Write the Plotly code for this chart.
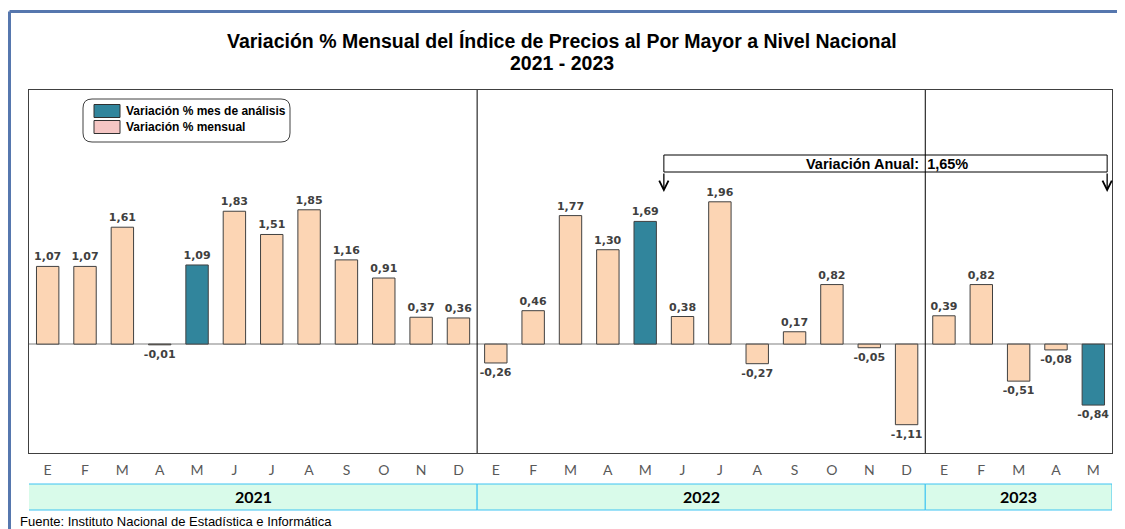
import plotly.graph_objects as go

# ---------------- data ----------------
months = ["E", "F", "M", "A", "M", "J", "J", "A", "S", "O", "N", "D",
          "E", "F", "M", "A", "M", "J", "J", "A", "S", "O", "N", "D",
          "E", "F", "M", "A", "M"]
years = ["2021", "2022", "2023"]
months_per_year = [12, 12, 5]
values = [1.07, 1.07, 1.61, -0.01, 1.09, 1.83, 1.51, 1.85, 1.16, 0.91, 0.37, 0.36,
          -0.26, 0.46, 1.77, 1.30, 1.69, 0.38, 1.96, -0.27, 0.17, 0.82, -0.05, -1.11,
          0.39, 0.82, -0.51, -0.08, -0.84]
analysis_month = [False, False, False, False, True, False, False, False, False, False, False, False,
                  False, False, False, False, True, False, False, False, False, False, False, False,
                  False, False, False, False, True]
annual_label = "Variación Anual:  1,65%"
legend_labels = ["Variación % mes de análisis", "Variación % mensual"]
title_lines = ["Variación % Mensual del Índice de Precios al Por Mayor a Nivel Nacional", "2021 - 2023"]
source = "Fuente: Instituto Nacional de Estadística e Informática"

# ---------------- style ----------------
PEACH = "#FCD5B4"
TEAL = "#31859C"
PINK = "#F5C6C4"
OFF = 8                      # page body margin
W, H = 1125 - OFF, 529 - OFF
ML, MR, MT, MB = 29 - OFF, 13, 90 - OFF, 76
PW, PH = W - ML - MR, H - MT - MB


def px(x):
    """window pixel x -> paper"""
    return (x - OFF - ML) / PW


def py(y):
    """window pixel y -> paper"""
    return (H - MB - (y - OFF)) / PH


x = list(range(len(values)))
colors = [TEAL if a else PEACH for a in analysis_month]
texts = [f"{v:.2f}".replace(".", ",") for v in values]

fig = go.Figure()
fig.add_trace(go.Bar(
    x=x, y=values, marker=dict(color=colors, line=dict(color="#404040", width=1)),
    text=texts, textposition="outside", constraintext="none", cliponaxis=False,
    textfont=dict(family="DejaVu Sans", size=11, color="#404040", weight="bold"),
    width=0.6, hoverinfo="skip", showlegend=False,
))

shapes = []
annotations = []

# annual variation box (below separators)
box_x0, box_x1 = 16.5, 28.37
shapes.append(dict(type="rect", xref="x", yref="paper", x0=box_x0, x1=box_x1,
                   y0=py(172), y1=py(155), line=dict(color="black", width=1),
                   fillcolor="white", layer="above"))
annotations.append(dict(xref="paper", yref="paper", x=px(887), y=py(163.5), text=annual_label,
                        showarrow=False, xanchor="center", yanchor="middle",
                        font=dict(family="Liberation Sans", size=14.5,
                                  color="black", weight="bold")))
for ax_ in (box_x0, box_x1):
    annotations.append(dict(xref="x", yref="paper", axref="pixel", ayref="pixel",
                            x=ax_, y=py(192), ax=0, ay=-20, text="",
                            showarrow=True, arrowhead=5, arrowsize=1.4, arrowwidth=1.3,
                            arrowcolor="black", standoff=0))

# year separators
start = 0
bounds = []
for n in months_per_year:
    bounds.append((start, start + n))
    start += n
for (a, b) in bounds[:-1]:
    shapes.append(dict(type="line", xref="x", yref="paper", x0=b - 0.5, x1=b - 0.5,
                       y0=0, y1=1, line=dict(color="black", width=1), layer="above"))

# year band
band_y0, band_y1 = py(510), py(484)
for i, ((a, b), yr) in enumerate(zip(bounds, years)):
    x0 = a - 0.5 if i > 0 else px(25) * len(values) - 0.5
    x1 = b - 0.5
    shapes.append(dict(type="rect", xref="x", yref="paper", x0=x0, x1=x1, y0=band_y0, y1=band_y1,
                       fillcolor="#D9FBEA", line=dict(color="#3CC3F2", width=1)))
    annotations.append(dict(xref="x", yref="paper", x=(a + b - 1) / 2, y=(band_y0 + band_y1) / 2,
                            text=yr, showarrow=False, xanchor="center", yanchor="middle",
                            font=dict(family="Lato", size=16, color="black", weight="bold")))

# legend box
r = 9
lx0, lx1, ly0, ly1 = 83, 290, 99, 142
path = (f"M {px(lx0 + r)} {py(ly0)} L {px(lx1 - r)} {py(ly0)} "
        f"Q {px(lx1)} {py(ly0)} {px(lx1)} {py(ly0 + r)} L {px(lx1)} {py(ly1 - r)} "
        f"Q {px(lx1)} {py(ly1)} {px(lx1 - r)} {py(ly1)} L {px(lx0 + r)} {py(ly1)} "
        f"Q {px(lx0)} {py(ly1)} {px(lx0)} {py(ly1 - r)} L {px(lx0)} {py(ly0 + r)} "
        f"Q {px(lx0)} {py(ly0)} {px(lx0 + r)} {py(ly0)} Z")
shapes.append(dict(type="path", xref="paper", yref="paper", path=path,
                   line=dict(color="#404040", width=1), fillcolor="white", layer="above"))
for (yc, col, lab) in ((111, TEAL, legend_labels[0]), (127, PINK, legend_labels[1])):
    shapes.append(dict(type="rect", xref="paper", yref="paper", x0=px(94), x1=px(120),
                       y0=py(yc + 6.5), y1=py(yc - 6.5), fillcolor=col,
                       line=dict(color="#303030", width=1), layer="above"))
    annotations.append(dict(xref="paper", yref="paper", x=px(124), y=py(yc), text=lab,
                            xanchor="left", yanchor="middle", showarrow=False,
                            font=dict(family="Liberation Sans", size=12, color="black", weight="bold")))

# outer blue frame
shapes.append(dict(type="line", xref="paper", yref="paper", x0=px(9.5), x1=px(1130),
                   y0=py(11.5), y1=py(11.5), line=dict(color="#5677AE", width=3)))
shapes.append(dict(type="line", xref="paper", yref="paper", x0=px(9.5), x1=px(9.5),
                   y0=py(11.5), y1=py(540), line=dict(color="#5677AE", width=3)))

# title
for txt, yy in zip(title_lines, (41, 63)):
    annotations.append(dict(xref="paper", yref="paper", x=px(562), y=py(yy), text=txt,
                            showarrow=False, xanchor="center", yanchor="middle",
                            font=dict(family="Liberation Sans", size=19.5, color="black",
                                      weight="bold")))

# source
annotations.append(dict(xref="paper", yref="paper", x=px(18), y=py(521), text=source,
                        showarrow=False, xanchor="left", yanchor="middle",
                        font=dict(family="Liberation Sans", size=13, color="black")))

fig.update_layout(
    width=W, height=H, margin=dict(l=ML, r=MR, t=MT, b=MB),
    paper_bgcolor="white", plot_bgcolor="white",
    shapes=shapes, annotations=annotations, showlegend=False,
    bargap=0.4,
    xaxis=dict(range=[-0.5, len(values) - 0.5], tickvals=x, ticktext=months,
               ticks="outside", ticklen=4, tickcolor="rgba(0,0,0,0)",
               tickfont=dict(family="Lato", size=14, color="#595959"),
               showline=True, mirror=True, linecolor="#404040", linewidth=1,
               showgrid=False, zeroline=False, fixedrange=True),
    yaxis=dict(range=[-1.5, 3.5], showticklabels=False, showgrid=False,
               zeroline=True, zerolinecolor="#BFBFBF", zerolinewidth=2,
               showline=True, mirror=True, linecolor="#404040", linewidth=1,
               ticks="", fixedrange=True),
)

fig.write_html("out.html")
